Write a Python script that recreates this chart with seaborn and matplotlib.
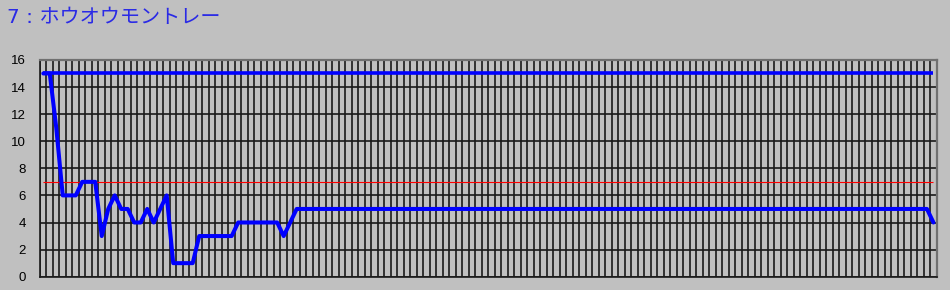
import numpy as np
import pandas as pd
import matplotlib
matplotlib.use("Agg")
import matplotlib.pyplot as plt
import seaborn as sns

# ---- data ----
title_text = "7 : ホウオウモントレー"
rank_values = [
    15, 15, 11, 6, 6, 6, 7, 7, 7, 3,
    5, 6, 5, 5, 4, 4, 5, 4, 5, 6,
    1, 1, 1, 1, 3, 3, 3, 3, 3, 3,
    4, 4, 4, 4, 4, 4, 4, 3, 4, 5,
    5, 5, 5, 5, 5, 5, 5, 5, 5, 5,
    5, 5, 5, 5, 5, 5, 5, 5, 5, 5,
    5, 5, 5, 5, 5, 5, 5, 5, 5, 5,
    5, 5, 5, 5, 5, 5, 5, 5, 5, 5,
    5, 5, 5, 5, 5, 5, 5, 5, 5, 5,
    5, 5, 5, 5, 5, 5, 5, 5, 5, 5,
    5, 5, 5, 5, 5, 5, 5, 5, 5, 5,
    5, 5, 5, 5, 5, 5, 5, 5, 5, 5,
    5, 5, 5, 5, 5, 5, 5, 5, 5, 5,
    5, 5, 5, 5, 5, 5, 5, 4,
]
upper_level = 15
threshold_level = 7
y_ticks = [0, 2, 4, 6, 8, 10, 12, 14, 16]

categories = list(range(len(rank_values)))
df = pd.DataFrame({"step": categories, "rank": rank_values})

sns.set_theme(style="white")
plt.rcParams["font.family"] = ["Liberation Sans", "DejaVu Sans"]

W, H = 950, 290
fig = plt.figure(figsize=(W / 100, H / 100), dpi=100)
fig.patch.set_facecolor("#c0c0c0")
ax = fig.add_axes([40 / W, 13.3 / H, (936.7 - 40) / W, (276.7 - 59.9) / H])
ax.set_facecolor("#c0c0c0")

n = len(categories)
ax.set_xlim(-0.5, n - 0.5)
ax.set_ylim(y_ticks[0], y_ticks[-1])

# vertical grid at category boundaries
ax.set_xticks(np.arange(-0.5, n, 1.0))
ax.set_xticklabels([])
ax.tick_params(axis="x", length=0)
ax.xaxis.grid(True, color="#1a1a1a", linewidth=1.2)
# horizontal grid
ax.set_yticks(y_ticks)
ax.set_yticklabels([str(v) for v in y_ticks], fontsize=9.5, color="black")
ax.tick_params(axis="y", length=4.3, width=1.2, color="#1a1a1a", pad=6)
ax.yaxis.grid(True, color="#1a1a1a", linewidth=1.2)
ax.set_axisbelow(True)

# reference lines
ax.hlines(upper_level, categories[0], categories[-1], color="#0000ff",
          linewidth=2.6, zorder=3)
ax.hlines(threshold_level, categories[0], categories[-1], color="#ff0000",
          linewidth=0.8, zorder=3)

sns.lineplot(data=df, x="step", y="rank", ax=ax, color="#0000ff",
             linewidth=2.9, zorder=4, legend=False)
ax.set_xlabel("")
ax.set_ylabel("")

for side in ["left", "bottom"]:
    ax.spines[side].set_color("#1a1a1a")
    ax.spines[side].set_linewidth(1.2)
for side in ["top", "right"]:
    ax.spines[side].set_color("#707070")
    ax.spines[side].set_linewidth(1.6)

fig.text(7 / W, 1 - 18 / H, title_text, color="#2a2ae6", fontsize=14.5,
         va="center", ha="left",
         family=["DejaVu Sans", "Noto Sans CJK JP"])

fig.savefig("out.png", dpi=100, facecolor=fig.get_facecolor())
